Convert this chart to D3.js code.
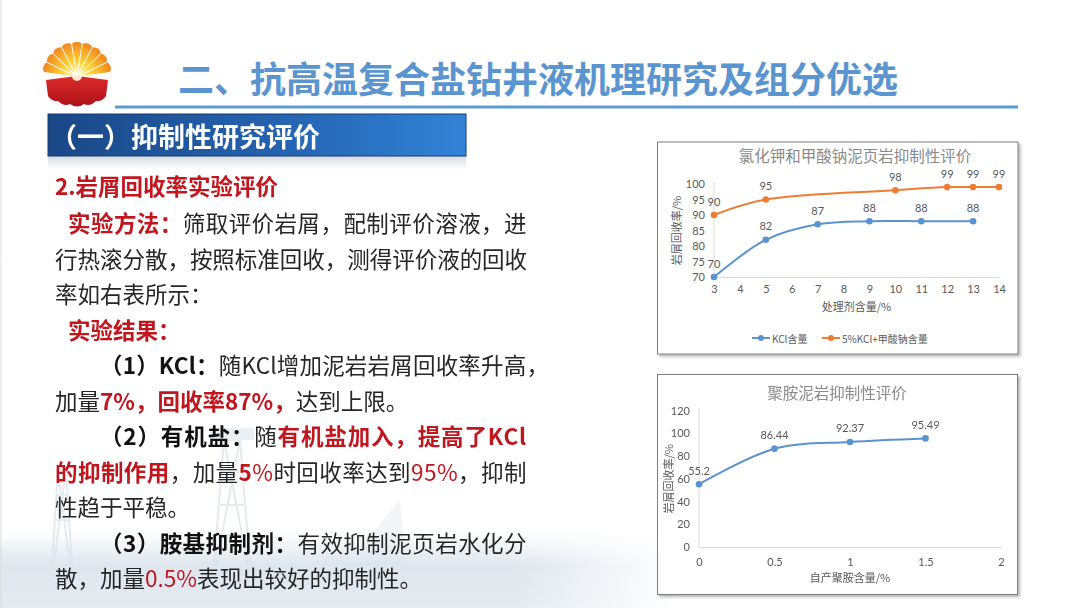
<!DOCTYPE html>
<html>
<head>
<meta charset="utf-8">
<script src="https://cdn.jsdelivr.net/npm/d3@7"></script>
<style>
html, body { margin: 0; padding: 0; background: #fff; }
svg { display: block; font-family: "Noto Sans CJK SC", "Noto Sans", sans-serif; }
</style>
</head>
<body>
<svg id="slide" width="1080" height="608"></svg>
<script>
// chart 1: KCl vs KCl + sodium formate
const kclDose = [3, 5, 7, 9, 11, 13];
const kclRecovery = [70, 82, 87, 88, 88, 88];
const mixDose = [3, 5, 10, 12, 13, 14];
const mixRecovery = [90, 95, 98, 99, 99, 99];
const doseTicks = [3, 4, 5, 6, 7, 8, 9, 10, 11, 12, 13, 14];
const recoveryTicks = [70, 75, 80, 85, 90, 95, 100];

// chart 2: polyamine
const amineDose = [0, 0.5, 1, 1.5];
const amineRecovery = [55.2, 86.44, 92.37, 95.49];
const amineDoseTicks = [0, 0.5, 1, 1.5, 2];
const amineRecoveryTicks = [0, 20, 40, 60, 80, 100, 120];

const blue = "#5b93cf", orange = "#ed7d31", grey = "#595959";
const svg = d3.select("#slide");
const defs = svg.append("defs");

// ---------- background ----------
const hazeV = defs.append("linearGradient").attr("id", "hazeV").attr("x1", 0).attr("y1", 0).attr("x2", 0).attr("y2", 1);
hazeV.append("stop").attr("offset", "0%").attr("stop-color", "#dfe6ed").attr("stop-opacity", 0);
hazeV.append("stop").attr("offset", "45%").attr("stop-color", "#dbe3eb").attr("stop-opacity", 0.9);
hazeV.append("stop").attr("offset", "100%").attr("stop-color", "#e5ebf1").attr("stop-opacity", 1);
const fadeH = defs.append("linearGradient").attr("id", "fadeH").attr("x1", 0).attr("y1", 0).attr("x2", 1).attr("y2", 0);
fadeH.append("stop").attr("offset", "0%").attr("stop-color", "#fff");
fadeH.append("stop").attr("offset", "75%").attr("stop-color", "#fff");
fadeH.append("stop").attr("offset", "100%").attr("stop-color", "#000");
defs.append("mask").attr("id", "fadeMask").append("rect")
  .attr("x", 0).attr("y", 530).attr("width", 680).attr("height", 78).attr("fill", "url(#fadeH)");

// faint rigs
const rig = svg.append("g").attr("fill", "none").attr("stroke", "#a9bacb").attr("opacity", 0.3).attr("stroke-width", 2);
rig.append("path").attr("d", "M214,565 L224,440 L240,440 L250,565 M220,505 L244,505 M218,535 L246,535 M222,472 L242,472 M224,440 L248,565 M240,440 L216,565");
rig.append("rect").attr("x", 210).attr("y", 428).attr("width", 44).attr("height", 12).attr("fill", "#bac8d5").attr("stroke", "none");
rig.append("path").attr("d", "M52,565 L58,470 L66,470 L72,565 M55,520 L69,520 M57,495 L67,495 M58,470 L70,565 M66,470 L54,565");
rig.append("path").attr("d", "M300,565 L360,548 L400,500 L406,565").attr("fill", "#c9d4de").attr("stroke", "none").attr("opacity", 0.8);
svg.append("rect").attr("x", 0).attr("y", 530).attr("width", 680).attr("height", 78)
  .attr("fill", "url(#hazeV)").attr("mask", "url(#fadeMask)");
svg.append("line").attr("x1", 1).attr("x2", 1).attr("y1", 0).attr("y2", 608).attr("stroke", "#dcdcdc");

// ---------- logo ----------
const cx = 77, cy = 77, R = 34;
const petal = defs.append("radialGradient").attr("id", "petal").attr("gradientUnits", "userSpaceOnUse")
  .attr("cx", cx).attr("cy", cy).attr("r", R);
petal.append("stop").attr("offset", "0%").attr("stop-color", "#fffbd8");
petal.append("stop").attr("offset", "45%").attr("stop-color", "#ffd43a");
petal.append("stop").attr("offset", "100%").attr("stop-color", "#f08a1e");
const redG = defs.append("linearGradient").attr("id", "redG").attr("x1", 0).attr("y1", 0).attr("x2", 0).attr("y2", 1);
redG.append("stop").attr("offset", "0%").attr("stop-color", "#dc2a2a");
redG.append("stop").attr("offset", "100%").attr("stop-color", "#ac1218");
const logo = svg.append("g");
const nPetals = 9, a0 = 188, a1 = 352, step = (a1 - a0) / nPetals;
for (let i = 0; i < nPetals; i++) {
  const s = (a0 + i * step) * Math.PI / 180, e = (a0 + (i + 1) * step) * Math.PI / 180;
  const p1 = [cx + R * Math.cos(s), cy + R * Math.sin(s)], p2 = [cx + R * Math.cos(e), cy + R * Math.sin(e)];
  logo.append("path")
    .attr("d", `M${cx},${cy} L${p1[0]},${p1[1]} A9,9 0 0 1 ${p2[0]},${p2[1]} Z`)
    .attr("fill", "url(#petal)").attr("stroke", "#fff").attr("stroke-width", 0.8);
}
logo.append("path")
  .attr("d", "M46,80 L77,76 L108,80 L106,96 Q102,102 96,101 Q90,107 84,104 Q77,109 70,104 Q64,107 58,101 Q52,102 48,96 Z")
  .attr("fill", "url(#redG)");
logo.append("circle").attr("cx", cx).attr("cy", cy - 1).attr("r", 5).attr("fill", "#fffbe0").attr("opacity", 0.9);

// ---------- title ----------
svg.append("text").attr("x", 178).attr("y", 77).attr("dominant-baseline", "central")
  .attr("font-size", 36).attr("font-weight", "bold").attr("fill", "#5b95d0")
  .text("二、抗高温复合盐钻井液机理研究及组分优选");
svg.append("line").attr("x1", 115).attr("x2", 1018).attr("y1", 107).attr("y2", 107)
  .attr("stroke", "#5b9bd5").attr("stroke-width", 3);

// ---------- section header ----------
const hdr = defs.append("linearGradient").attr("id", "hdr").attr("x1", 0).attr("y1", 0).attr("x2", 1).attr("y2", 0);
hdr.append("stop").attr("offset", "0%").attr("stop-color", "#1a4786");
hdr.append("stop").attr("offset", "55%").attr("stop-color", "#2463b0");
hdr.append("stop").attr("offset", "100%").attr("stop-color", "#3283d6");
const refl = defs.append("linearGradient").attr("id", "refl").attr("x1", 0).attr("y1", 0).attr("x2", 0).attr("y2", 1);
refl.append("stop").attr("offset", "0%").attr("stop-color", "#c3ccd6");
refl.append("stop").attr("offset", "100%").attr("stop-color", "#ffffff");
svg.append("rect").attr("x", 48).attr("y", 156).attr("width", 418).attr("height", 14).attr("fill", "url(#refl)").attr("opacity", 0.7);
svg.append("rect").attr("x", 48).attr("y", 114).attr("width", 418).attr("height", 42)
  .attr("fill", "url(#hdr)").attr("stroke", "#173c70").attr("stroke-width", 1);
svg.append("text").attr("x", 50).attr("y", 135).attr("dominant-baseline", "central")
  .attr("font-size", 27).attr("font-weight", "bold").attr("fill", "#fff")
  .text("（一）抑制性研究评价");

// ---------- body text ----------
const styles = {
  n: { fill: "#262626", weight: "normal" },
  b: { fill: "#111", weight: "bold" },
  r: { fill: "#c0161e", weight: "bold" },
  rn: { fill: "#c0161e", weight: "normal" }
};
const lines = [
  { x: 55, y: 185, parts: [["2.岩屑回收率实验评价", "r"]] },
  { x: 68, y: 222, right: 527, parts: [["实验方法：", "r"], ["筛取评价岩屑，配制评价溶液，进", "n"]] },
  { x: 55, y: 257.5, right: 527, parts: [["行热滚分散，按照标准回收，测得评价液的回收", "n"]] },
  { x: 55, y: 293, parts: [["率如右表所示：", "n"]] },
  { x: 68, y: 328.5, parts: [["实验结果：", "r"]] },
  { x: 100, y: 364, right: 549, parts: [["（1）KCl：", "b"], ["随KCl增加泥岩岩屑回收率升高，", "n"]] },
  { x: 55, y: 399.5, parts: [["加量", "n"], ["7%，回收率87%，", "r"], ["达到上限。", "n"]] },
  { x: 100, y: 435, right: 527, parts: [["（2）有机盐：", "b"], ["随", "n"], ["有机盐加入，提高了KCl", "r"]] },
  { x: 55, y: 470.5, right: 527, parts: [["的抑制作用", "r"], ["，加量", "n"], ["5", "r"], ["%", "rn"], ["时回收率达到", "n"], ["95%", "rn"], ["，抑制", "n"]] },
  { x: 55, y: 506, parts: [["性趋于平稳。", "n"]] },
  { x: 100, y: 541.5, right: 527, parts: [["（3）胺基抑制剂：", "b"], ["有效抑制泥页岩水化分", "n"]] },
  { x: 55, y: 577, parts: [["散，加量", "n"], ["0.5%", "rn"], ["表现出较好的抑制性。", "n"]] }
];
lines.forEach(l => {
  const t = svg.append("text").attr("x", l.x).attr("y", l.y).attr("dominant-baseline", "central")
    .attr("font-size", 22.5);
  l.parts.forEach(p => {
    t.append("tspan").attr("fill", styles[p[1]].fill).attr("font-weight", styles[p[1]].weight).text(p[0]);
  });
  if (l.right) {
    const w = t.node().getComputedTextLength();
    const n = l.parts.map(p => p[0]).join("").length;
    t.attr("letter-spacing", ((l.right - l.x - w) / n).toFixed(2));
  }
});

// ---------- charts ----------
const shadow = defs.append("filter").attr("id", "shadow").attr("x", "-5%").attr("y", "-5%").attr("width", "115%").attr("height", "115%");
shadow.append("feDropShadow").attr("dx", 2).attr("dy", 2).attr("stdDeviation", 1.5).attr("flood-opacity", 0.3);

function drawChart(o) {
  const g = svg.append("g");
  g.append("rect").attr("x", o.box[0]).attr("y", o.box[1]).attr("width", o.box[2]).attr("height", o.box[3])
    .attr("fill", "#fff").attr("stroke", "#7f7f7f").attr("filter", "url(#shadow)");
  g.append("text").attr("x", o.title[1]).attr("y", o.title[2]).attr("text-anchor", "middle")
    .attr("dominant-baseline", "central").attr("font-size", 15.5).attr("fill", "#8a8a8a").text(o.title[0]);

  const x = d3.scaleLinear().domain(o.xDomain).range(o.xRange);
  const y = d3.scaleLinear().domain(o.yDomain).range(o.yRange);

  const xa = g.append("g").attr("transform", `translate(0,${o.yRange[0]})`)
    .call(d3.axisBottom(x).tickValues(o.xTicks).tickSize(0).tickSizeOuter(0).tickPadding(o.xPad).tickFormat(d => d));
  const ya = g.append("g").attr("transform", `translate(${o.xRange[0]},0)`)
    .call(d3.axisLeft(y).tickValues(o.yTicks).tickSize(0).tickSizeOuter(0).tickPadding(9).tickFormat(d => d));
  [xa, ya].forEach(a => {
    a.select(".domain").attr("stroke", "#d9d9d9");
    a.selectAll("text").attr("font-family", "Lato, 'Noto Sans', sans-serif").attr("font-size", 11).attr("fill", grey);
  });
  ya.select(".domain").attr("d", `M0,${o.yRange[0]}V${o.yTop}`);

  g.append("text").attr("x", (o.xRange[0] + o.xRange[1]) / 2).attr("y", o.xTitleY).attr("text-anchor", "middle")
    .attr("dominant-baseline", "central").attr("font-size", 11).attr("fill", grey).text(o.xTitle);
  g.append("text").attr("transform", `translate(${o.yTitleX},${(o.yRange[0] + o.yRange[1]) / 2}) rotate(-90)`)
    .attr("text-anchor", "middle").attr("dominant-baseline", "central").attr("font-size", 11).attr("fill", grey)
    .text("岩屑回收率/%");

  const line = d3.line().x(d => x(d[0])).y(d => y(d[1])).curve(d3.curveCatmullRom.alpha(0.5));
  o.series.forEach(s => {
    const pts = d3.zip(s.xs, s.ys);
    g.append("path").datum(pts).attr("d", line).attr("fill", "none").attr("stroke", s.color).attr("stroke-width", 2);
    g.selectAll(null).data(pts).enter().append("circle")
      .attr("cx", d => x(d[0])).attr("cy", d => y(d[1])).attr("r", 3.3).attr("fill", s.color);
    g.selectAll(null).data(pts).enter().append("text")
      .attr("x", d => x(d[0])).attr("y", d => y(d[1]) - 14).attr("text-anchor", "middle")
      .attr("dominant-baseline", "central").attr("font-family", "Lato, 'Noto Sans', sans-serif")
      .attr("font-size", 11).attr("fill", grey).text(d => d[1]);
  });
  return g;
}

const c1 = drawChart({
  box: [657.5, 142, 360.5, 212],
  title: ["氯化钾和甲酸钠泥页岩抑制性评价", 855, 155],
  xDomain: [3, 14], xRange: [714, 999], yDomain: [70, 100], yRange: [277, 184], yTop: 182,
  xTicks: doseTicks, yTicks: recoveryTicks, xPad: 8,
  xTitle: "处理剂含量/%", xTitleY: 306, yTitleX: 676,
  series: [
    { xs: kclDose, ys: kclRecovery, color: blue },
    { xs: mixDose, ys: mixRecovery, color: orange }
  ]
});
// legend
const legendItems = [["KCl含量", blue, 752], ["5%KCl+甲酸钠含量", orange, 822]];
legendItems.forEach(([label, color, lx]) => {
  c1.append("line").attr("x1", lx).attr("x2", lx + 18).attr("y1", 338).attr("y2", 338).attr("stroke", color).attr("stroke-width", 2);
  c1.append("circle").attr("cx", lx + 9).attr("cy", 338).attr("r", 3).attr("fill", color);
  c1.append("text").attr("x", lx + 20).attr("y", 338).attr("dominant-baseline", "central")
    .attr("font-size", 10).attr("fill", grey).text(label);
});

drawChart({
  box: [657.5, 374.5, 360, 220],
  title: ["聚胺泥岩抑制性评价", 837, 392],
  xDomain: [0, 2], xRange: [699, 1001], yDomain: [0, 120], yRange: [547, 410.5], yTop: 408,
  xTicks: amineDoseTicks, yTicks: amineRecoveryTicks, xPad: 11,
  xTitle: "自产聚胺含量/%", xTitleY: 577, yTitleX: 668,
  series: [{ xs: amineDose, ys: amineRecovery, color: blue }]
});
</script>
</body>
</html>
